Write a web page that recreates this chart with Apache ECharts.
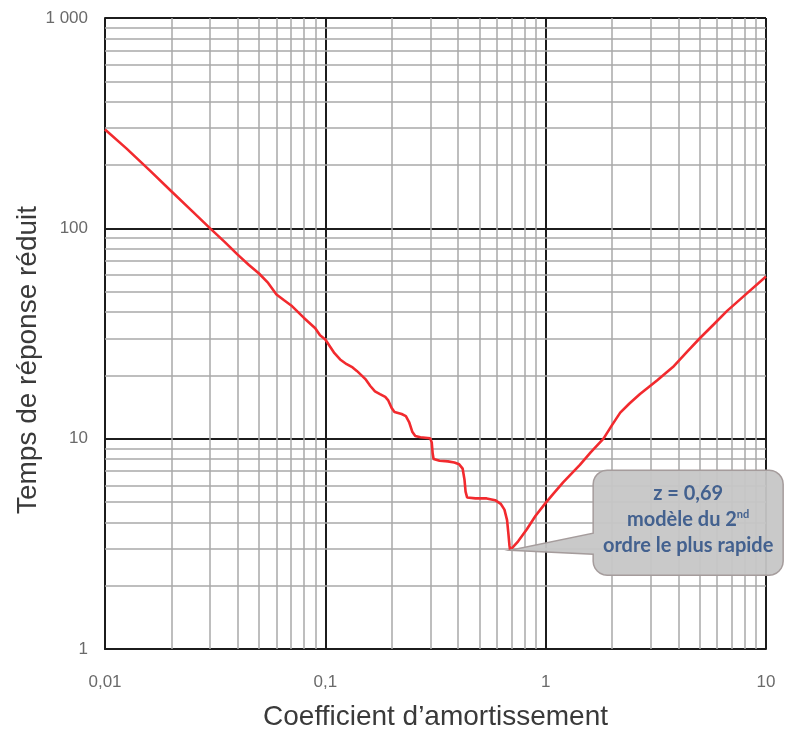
<!DOCTYPE html>
<html>
<head>
<meta charset="utf-8">
<script src="https://cdn.jsdelivr.net/npm/echarts@6/dist/echarts.min.js"></script>
<style>
  html, body { margin: 0; padding: 0; background: #ffffff; }
  #chart { width: 809px; height: 736px; }
</style>
</head>
<body>
<div id="chart"></div>
<script>
// Coefficient d'amortissement (z)
const zeta = [
  0.01, 0.0125, 0.016, 0.02, 0.025, 0.03, 0.035, 0.04, 0.045, 0.05,
  0.055, 0.06, 0.065, 0.07, 0.08, 0.09, 0.0946, 0.1, 0.11, 0.1167,
  0.125, 0.133, 0.139, 0.146, 0.152, 0.16, 0.168, 0.177, 0.187, 0.193,
  0.2, 0.206, 0.222, 0.232, 0.24, 0.248, 0.256, 0.27, 0.299, 0.304,
  0.307, 0.31, 0.33, 0.36, 0.385, 0.405, 0.42, 0.428, 0.433, 0.44,
  0.48, 0.54, 0.59, 0.625, 0.65, 0.668, 0.678, 0.685, 0.69, 0.75,
  0.82, 0.9, 1.0, 1.08, 1.2, 1.43, 1.6, 1.83, 2.0, 2.18,
  2.4, 2.68, 3.2, 3.78, 4.4, 5.02, 5.8, 6.66, 8.0, 10
];
// Temps de réponse réduit (t.w0)
const tempsReduit = [
  295, 240, 188, 150, 120, 100, 86, 75, 67, 61,
  55, 48.5, 45.5, 43, 37.5, 33.5, 31, 29.6, 25.5, 23.8,
  22.6, 21.8, 21.0, 20.0, 19.2, 17.8, 16.8, 16.3, 15.8, 15.2,
  14.0, 13.4, 13.1, 12.8, 12.0, 10.8, 10.3, 10.15, 10.05, 9.6,
  8.5, 8.0, 7.85, 7.8, 7.7, 7.55, 7.2, 6.4, 5.6, 5.25,
  5.2, 5.2, 5.1, 4.9, 4.6, 4.1, 3.5, 3.1, 2.95, 3.25,
  3.7, 4.3, 4.95, 5.45, 6.2, 7.5, 8.6, 10, 11.6, 13.3,
  14.7, 16.3, 18.9, 21.9, 26, 30.1, 35, 40.5, 48, 59
];

const xTickLabels = ['0,01', '0,1', '1', '10'];
const yTickLabels = ['1', '10', '100', '1 000'];

// Minor grid values (2..9 in each decade)
const xMinorValues = [
  0.02, 0.03, 0.04, 0.05, 0.06, 0.07, 0.08, 0.09,
  0.2, 0.3, 0.4, 0.5, 0.6, 0.7, 0.8, 0.9,
  2, 3, 4, 5, 6, 7, 8, 9
];
const yMinorValues = [
  2, 3, 4, 5, 6, 7, 8, 9,
  20, 30, 40, 50, 60, 70, 80, 90,
  200, 300, 400, 500, 600, 700, 800, 900
];

const calloutText = ['z = 0,69', 'modèle du 2', 'nd', 'ordre le plus rapide'];

const chart = echarts.init(document.getElementById('chart'), null, { renderer: 'canvas' });

const majorLine = { color: '#1c1c1c', width: 2 };
const minorLine = { color: '#a9a9a9', width: 1.5, type: 'solid' };
const labelColor = '#6a6a6a';
const titleColor = '#3a3a3a';
const font = 'Liberation Sans, Arial, sans-serif';

const minorMarks = []
  .concat(xMinorValues.map(v => ({ xAxis: v })))
  .concat(yMinorValues.map(v => ({ yAxis: v })));

chart.setOption({
  backgroundColor: '#ffffff',
  animation: false,
  grid: { left: 105, right: 43, top: 18, bottom: 83 },
  xAxis: {
    type: 'log',
    logBase: 10,
    min: 0.01,
    max: 10,
    name: 'Coefficient d\u2019amortissement',
    nameLocation: 'middle',
    nameGap: 54,
    nameTextStyle: { fontFamily: font, fontSize: 28, color: titleColor },
    axisLine: { show: true, onZero: false, lineStyle: majorLine },
    axisTick: { show: false },
    axisLabel: {
      margin: 25,
      fontFamily: font,
      fontSize: 17,
      color: labelColor,
      formatter: v => xTickLabels[Math.round(Math.log10(v)) + 2]
    },
    splitLine: { show: true, lineStyle: majorLine }
  },
  yAxis: {
    type: 'log',
    logBase: 10,
    min: 1,
    max: 1000,
    axisLine: { show: true, lineStyle: majorLine },
    axisTick: { show: false },
    axisLabel: {
      margin: 17,
      fontFamily: font,
      fontSize: 17,
      color: labelColor,
      formatter: v => yTickLabels[Math.round(Math.log10(v))]
    },
    splitLine: { show: true, lineStyle: majorLine }
  },
  series: [
    {
      // minor grid lines
      type: 'line',
      data: [],
      z: 1,
      silent: true,
      markLine: {
        silent: true,
        symbol: ['none', 'none'],
        label: { show: false },
        lineStyle: minorLine,
        emphasis: { disabled: true },
        data: minorMarks
      }
    },
    {
      name: 'Temps de réponse réduit',
      type: 'line',
      z: 5,
      showSymbol: false,
      smooth: false,
      lineStyle: { color: '#f22a2e', width: 2.6 },
      data: zeta.map((z, i) => [z, tempsReduit[i]])
    }
  ]
});

// Callout pointing at the fastest second-order response
let iMin = 0;
tempsReduit.forEach((t, i) => { if (t < tempsReduit[iMin]) iMin = i; });
const tip = chart.convertToPixel({ gridIndex: 0 }, [zeta[iMin], tempsReduit[iMin]]);
const L = tip[0] + 83, R = tip[0] + 273, T = tip[1] - 80, B = tip[1] + 25, r = 14;
const p1 = tip[1] - 17, p2 = tip[1] + 4;

// outline of a rounded box with a pointer on its left side
function corner(cx, cy, a0, pts) {
  for (let k = 0; k <= 6; k++) {
    const a = a0 + (k / 6) * Math.PI / 2;
    pts.push([cx + r * Math.cos(a), cy + r * Math.sin(a)]);
  }
}
const outline = [];
corner(R - r, T + r, -Math.PI / 2, outline);   // top-right
corner(R - r, B - r, 0, outline);              // bottom-right
corner(L + r, B - r, Math.PI / 2, outline);    // bottom-left
outline.push([L, p2], [tip[0], tip[1]], [L, p1]);
corner(L + r, T + r, Math.PI, outline);        // top-left

const calloutColor = '#43618f';
chart.setOption({
  graphic: {
    elements: [
      {
        id: 'yTitle',
        type: 'text',
        x: 28,
        y: 360,
        rotation: Math.PI / 2,
        style: {
          text: 'Temps de réponse réduit',
          font: '28px Liberation Sans, Arial, sans-serif',
          fill: titleColor,
          textAlign: 'center',
          textVerticalAlign: 'middle'
        }
      },
      {
        id: 'calloutBox',
        type: 'polygon',
        z: 50,
        shape: { points: outline },
        style: { fill: 'rgba(198,198,198,0.95)', stroke: '#a59c9c', lineWidth: 1.5 }
      },
      {
        id: 'calloutText',
        type: 'text',
        z: 51,
        x: (L + R) / 2,
        y: (T + B) / 2 - 3,
        style: {
          text: '{a|' + calloutText[0] + '}\n{a|' + calloutText[1] + '}{s|' + calloutText[2] + '}\n{a|' + calloutText[3] + '}',
          textAlign: 'center',
          textVerticalAlign: 'middle',
          rich: {
            a: { fontFamily: 'Lato, sans-serif', fontWeight: 'bold', fontSize: 20, lineHeight: 26, fill: calloutColor, color: calloutColor },
            s: { fontFamily: 'Lato, sans-serif', fontWeight: 'bold', fontSize: 11, lineHeight: 26, padding: [0, 0, 11, 0], fill: calloutColor, color: calloutColor }
          }
        }
      }
    ]
  }
});
</script>
</body>
</html>
